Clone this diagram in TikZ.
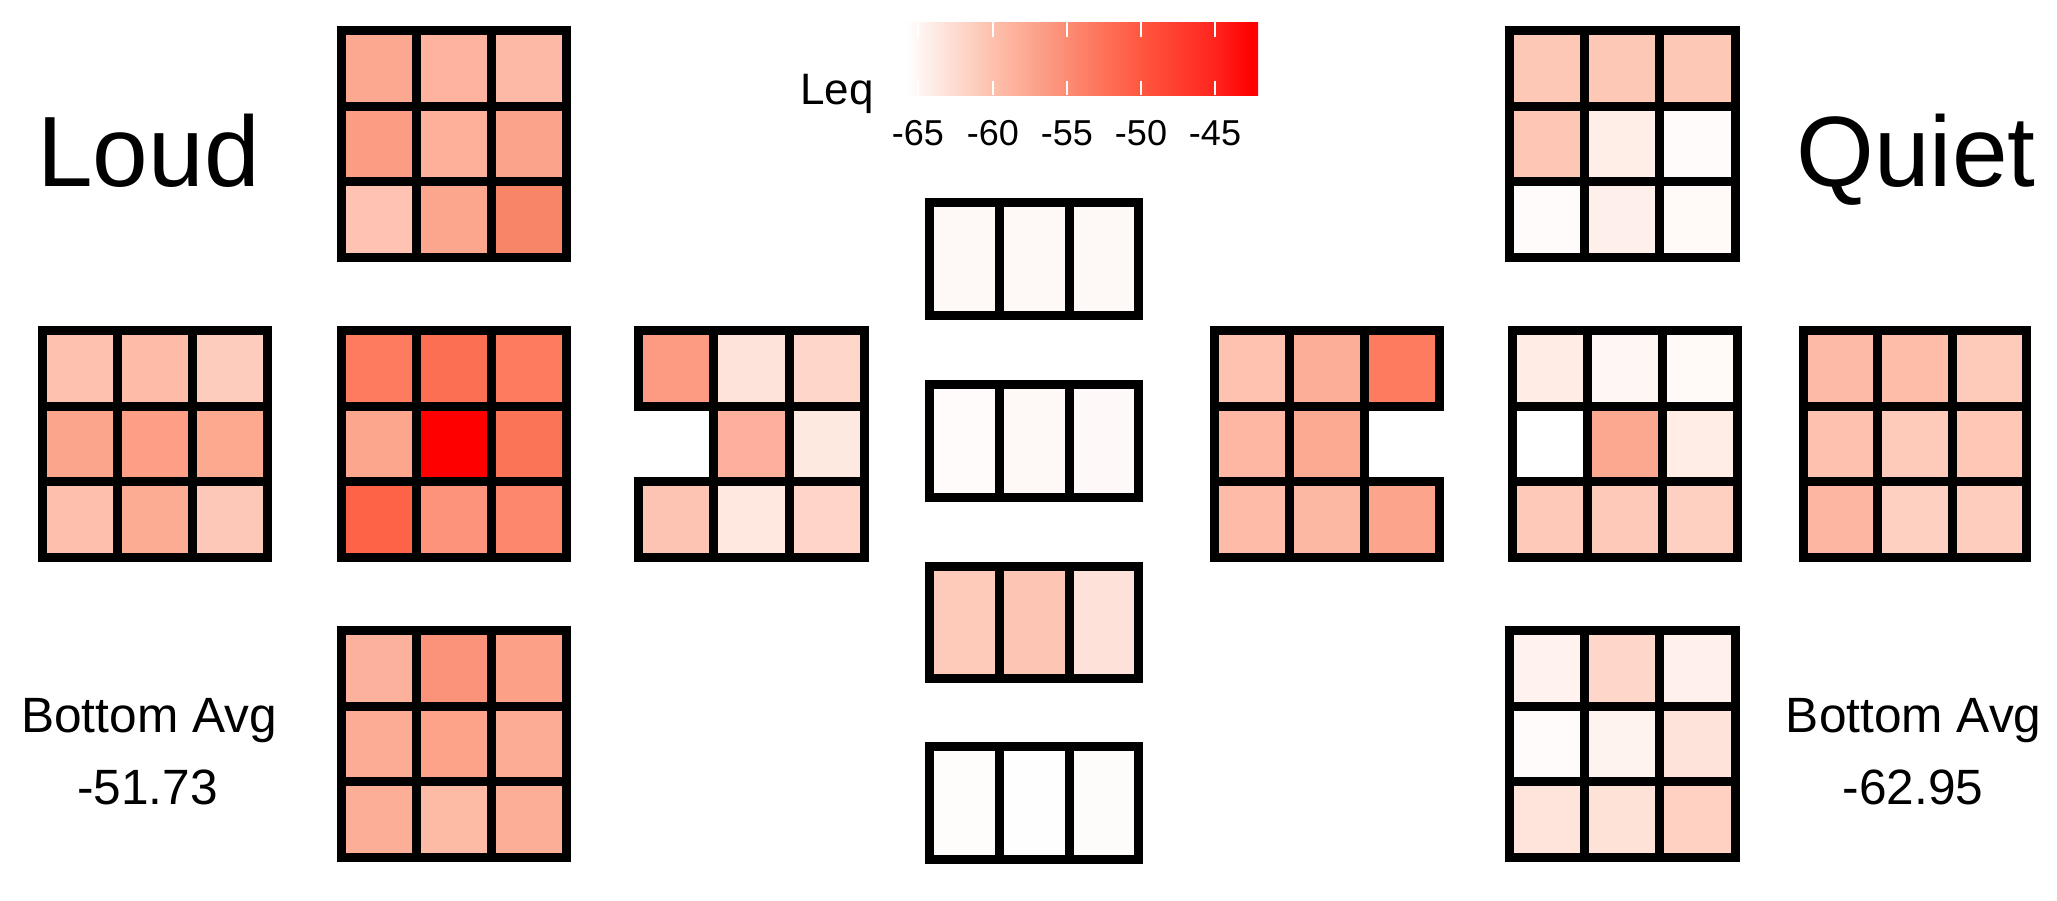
\documentclass[tikz,border=0pt]{standalone}
\usepackage{fontspec}
\setmainfont{Liberation Sans}
\definecolor{barA}{RGB}{253,192,172}
\definecolor{barB}{RGB}{252,140,115}
\definecolor{barC}{RGB}{255,86,62}
\definecolor{barD}{RGB}{255,36,30}
\pgfdeclarehorizontalshading{leqbar}{100bp}{color(0bp)=(white); color(25bp)=(white); color(25.7bp)=(white); color(38bp)=(barA); color(48.3bp)=(barB); color(58.7bp)=(barC); color(69bp)=(barD); color(74bp)=(red); color(100bp)=(red)}
\tikzset{
  gridline/.style={draw=black, line width=4.5pt, line join=miter},
  bigtitle/.style={inner sep=0pt, anchor=base, font=\fontsize{50pt}{60pt}\selectfont},
  avgtext/.style={inner sep=0pt, anchor=base, font=\fontsize{24.8pt}{30pt}\selectfont},
  ticktext/.style={inner sep=0pt, anchor=base, font=\fontsize{18pt}{22pt}\selectfont},
  tickline/.style={draw=white, line width=0.75pt},
}
\def\skipcell{X}
% #1 x0, #2 y0, #3 width, #4 height, #5 rows, #6 colours (row by row, 3 per row; X = no cell)
\newcommand\heatgrid[6]{%
  \pgfmathsetmacro\gsx{(#3-9)/3}%
  \pgfmathsetmacro\gsy{(#4-9)/#5}%
  \foreach \c [count=\k from 0] in {#6} {%
    \ifx\c\skipcell\else
      \pgfmathtruncatemacro\gcol{mod(\k,3)}%
      \pgfmathtruncatemacro\grow{int(\k/3)}%
      \edef\tmpdef{\noexpand\definecolor{cellc}{HTML}{\c}}\tmpdef
      \fill[cellc] ({#1+4.5+\gcol*\gsx},{#2+4.5+\grow*\gsy}) rectangle +(\gsx,\gsy);
    \fi
  }%
  \foreach \c [count=\k from 0] in {#6} {%
    \ifx\c\skipcell\else
      \pgfmathtruncatemacro\gcol{mod(\k,3)}%
      \pgfmathtruncatemacro\grow{int(\k/3)}%
      \draw[gridline] ({#1+4.5+\gcol*\gsx},{#2+4.5+\grow*\gsy}) rectangle +(\gsx,\gsy);
    \fi
  }%
}
\begin{document}
\begin{tikzpicture}[x=0.5pt,y=-0.5pt]
\fill[white] (0,0) rectangle (2057,900);
\useasboundingbox (0,0) rectangle (2057,900);

% titles
\node[bigtitle] (loud) at (148.5,186.7) {Loud};
\node[bigtitle] (quiet) at (1916,186.7) {Quiet};
\node[avgtext] (avgL) at (149,732.7) {Bottom Avg};
\node[avgtext] (avgLv) at (147.5,804) {-51.73};
\node[avgtext] (avgR) at (1913.7,732.7) {Bottom Avg};
\node[avgtext] (avgRv) at (1913,804) {-62.95};

% colour bar
\shade[shading=leqbar] (900,22.3) rectangle (1258,95);
\foreach \tx/\tl [count=\n] in {918/-65,993/-60,1067/-55,1141/-50,1215/-45} {
  \draw[tickline] (\tx,22.3) -- (\tx,37);
  \draw[tickline] (\tx,80.5) -- (\tx,95);
  \node[ticktext] (tick\n) at (\tx,145) {\tl};
}
\node[inner sep=0pt, anchor=base west, font=\fontsize{22pt}{26pt}\selectfont] (leq) at (800,104) {Leq};

% Loud side
\heatgrid{336.5}{26}{234}{236}{3}{FCA790,FDB39E,FDB9A5,FB9D83,FDB09A,FCA48B,FEC3B2,FCA68E,F98569}
\heatgrid{38}{326}{234}{236}{3}{FEC1AF,FDBBA8,FECCBC,FCA58D,FC9F86,FCA990,FEBFAD,FDAC94,FEC8B8}
\heatgrid{336.5}{326}{234}{236}{3}{FE7B5F,FC6F53,FD7C60,FDA68E,FE0000,FB7458,FE6347,FD937A,FD876D}
\heatgrid{634}{326}{235}{236}{3}{FC9B82,FEE3DA,FED6CA,X,FDB19C,FEE9E0,FEC4B3,FEE8DF,FED5C8}
\heatgrid{336.5}{626}{234}{236}{3}{FCB19C,FB937A,FCA088,FCAC95,FCA38A,FCAC95,FCAE97,FDBAA5,FCAE97}

% centre strips
\heatgrid{925}{198.3}{218.3}{121.7}{1}{FEF8F7,FEF8F7,FEF8F7}
\heatgrid{925}{380}{218.3}{121.7}{1}{FFFBFB,FEF9F7,FEF9F8}
\heatgrid{925}{561.7}{218.3}{121}{1}{FECAB9,FDC6B4,FEE1D8}
\heatgrid{925}{742.3}{218.3}{121.7}{1}{FFFDFC,FFFEFE,FEFBFB}

% Quiet side
\heatgrid{1209.5}{326}{234.3}{236}{3}{FEC2B0,FDAE98,FD7B5F,FDB7A2,FCAA92,X,FEBCA8,FDB8A4,FCA58C}
\heatgrid{1507.5}{326}{234.5}{236}{3}{FFECE5,FFF7F4,FFFAF8,FFFFFF,FCA78F,FFEDE6,FEC9B8,FEC9B8,FED0C1}
\heatgrid{1799}{326}{232}{236}{3}{FDBBA7,FDBDA9,FECBBB,FDC1AF,FECBBB,FEC7B6,FCB6A1,FED0C1,FECDBE}
\heatgrid{1505}{26}{234.7}{236}{3}{FEC8B7,FEC8B7,FEC8B7,FEC6B4,FFEDE7,FFFBFA,FFFBFA,FFEFEA,FFF9F8}
\heatgrid{1505}{626}{234.7}{236}{3}{FFF2EF,FED6CA,FFF0EC,FFFBFA,FFF3EF,FEE3DA,FEE4DB,FEE1D7,FED1C3}
\end{tikzpicture}
\end{document}
